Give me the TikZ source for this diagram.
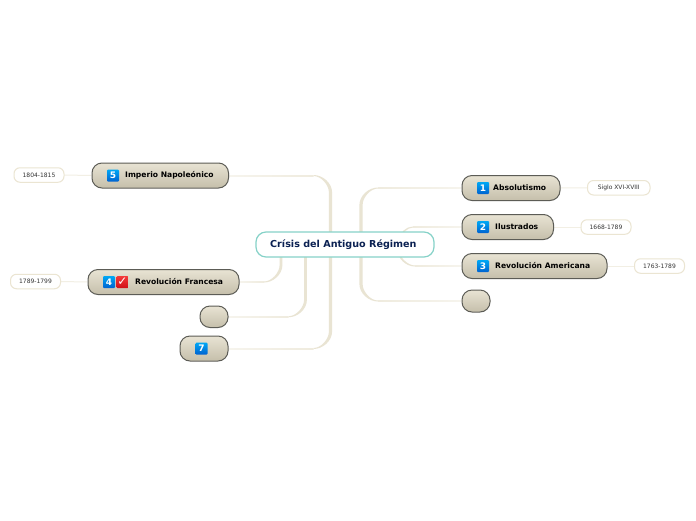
\documentclass[tikz,border=0pt]{standalone}
\usepackage{fontspec}
\setmainfont{DejaVu Sans}
\usetikzlibrary{calc,backgrounds}
\definecolor{branchA}{HTML}{E9E4D3}
\definecolor{branchB}{HTML}{EFEBDE}
\definecolor{branchC}{HTML}{F6F4ED}
\definecolor{leafline}{HTML}{F2EFE4}
\definecolor{leafedge}{HTML}{EBE5D2}
\definecolor{rootedge}{HTML}{86D2C8}
\definecolor{rootink}{HTML}{0B2152}
\definecolor{boxedge}{HTML}{5C5C56}
\definecolor{boxa}{HTML}{DAD5C3}
\definecolor{boxb}{HTML}{C7C1AD}
\definecolor{boxc}{HTML}{E6E1D1}
\definecolor{bluea}{HTML}{0062D0}
\definecolor{blueb}{HTML}{00A8F4}
\definecolor{reda}{HTML}{D01018}
\definecolor{redb}{HTML}{F43A3A}
\pgfdeclareverticalshading{boxshade}{100bp}{color(0bp)=(boxa); color(25bp)=(boxa); color(28bp)=(boxb); color(72bp)=(boxc); color(100bp)=(boxc)}
\pgfdeclareverticalshading{blueshade}{100bp}{color(0bp)=(bluea); color(25bp)=(bluea); color(75bp)=(blueb); color(100bp)=(blueb)}
\pgfdeclareverticalshading{redshade}{100bp}{color(0bp)=(reda); color(25bp)=(reda); color(75bp)=(redb); color(100bp)=(redb)}
\tikzset{
  x=1pt,y=-1pt,
  rootbox/.style={draw=rootedge,line width=1.2pt,fill=white,rounded corners=10pt,minimum height=25pt,inner sep=0pt},
  topicbox/.style={draw=boxedge,line width=1pt,shading=boxshade,rounded corners=10pt,inner sep=0pt},
  leafbox/.style={draw=leafedge,line width=1pt,fill=white,rounded corners=6pt,inner sep=0pt,minimum height=14.5pt,minimum width=50pt,font=\fontsize{6}{6}\selectfont,text=black!80},
  topictext/.style={font=\bfseries\fontsize{7.6}{8}\selectfont,text=black,inner sep=0pt,anchor=west},
  iconblue/.style={shading=blueshade,rounded corners=1pt,minimum size=12pt,inner sep=0pt,text=white,font=\bfseries\fontsize{9}{9}\selectfont},
  iconred/.style={shading=redshade,rounded corners=1pt,minimum size=12pt,inner sep=0pt,text=white,font=\bfseries\fontsize{12}{12}\selectfont},
  leafconn/.style={draw=leafline,line width=1pt},
  fade1/.style={left color=branchB,right color=branchC},
  fade-1/.style={left color=branchC,right color=branchB},
}
% #1 start, #2 end, #3 horizontal sign, #4 vertical sign, #5 radius, #6 half width at the root
\newcommand{\branchline}[6]{%
  \coordinate (C) at (#1 |- #2);
  \fill[branchA]
    ($(#1)+({-#3*#6},0)$) -- ($(C)+({-#3*#6},{-#4*#5})$)
    .. controls ($(C)+({-#3*#6},{-#4*0.45*#5})$) and ($(C)+({#3*0.45*#5},{#4*0.5})$) .. ($(C)+({#3*#5},{#4*0.5})$)
    -- ($(C)+({#3*#5},{-#4*0.5})$)
    .. controls ($(C)+({#3*0.55*#5},{-#4*0.5})$) and ($(C)+({#3*#6},{-#4*0.55*#5})$) .. ($(C)+({#3*#6},{-#4*#5})$)
    -- ($(#1)+({#3*#6},0)$) -- cycle;
  \shade[fade#3] ($(C)+({#3*#5},-0.5)$) rectangle ($(#2)+(0,0.5)$);
}
\begin{document}
\begin{tikzpicture}
\useasboundingbox (0,0) rectangle (696,520);
\node[rootbox,minimum width=178pt] (root) at (345,244.5) {};
\node[font=\bfseries\fontsize{9.6}{10}\selectfont,text=rootink,inner sep=0pt,anchor=west] (roottext) at (270,244.5) {Crísis del Antiguo Régimen};
% right topics
\node[topicbox,minimum width=98pt,minimum height=25pt] (abs) at (511,188) {};
\node[iconblue] (i1) at (483,188) {1};
\node[topictext] (t1) at (493,187.5) {Absolutismo};
\node[topicbox,minimum width=91.5pt,minimum height=25pt] (ilu) at (507.75,227) {};
\node[iconblue] (i2) at (483,227) {2};
\node[topictext] (t2) at (495,227) {Ilustrados};
\node[topicbox,minimum width=145pt,minimum height=25pt] (ame) at (534.5,266) {};
\node[iconblue] (i3) at (483,266) {3};
\node[topictext] (t3) at (495,266) {Revolución Americana};
\node[topicbox,minimum width=28pt,minimum height=22pt] (emptyr) at (476,301) {};
% left topics
\node[topicbox,minimum width=136.5pt,minimum height=25pt] (imp) at (160.25,175.5) {};
\node[iconblue] (i5) at (113,175.5) {5};
\node[topictext] (t5) at (125,175.5) {Imperio Napoleónico};
\node[topicbox,minimum width=151pt,minimum height=25pt] (fra) at (163.5,282) {};
\node[iconblue] (i4) at (109,282) {4};
\node[iconred] (c4) at (122.5,282) {✓};
\node[topictext] (t4) at (135,282) {Revolución Francesa};
\node[topicbox,minimum width=28pt,minimum height=21.5pt] (emptyl) at (214,316.75) {};
\node[topicbox,minimum width=48pt,minimum height=25pt] (seven) at (204,348.5) {};
\node[iconblue] (i7) at (201.5,348.5) {7};
% leaves
\node[leafbox,minimum width=62.5pt] (l1) at (618.75,187.75) {Siglo XVI-XVIII};
\node[leafbox] (l2) at (606,227) {1668-1789};
\node[leafbox] (l3) at (659.5,266) {1763-1789};
\node[leafbox] (l5) at (39,175) {1804-1815};
\node[leafbox] (l4) at (35.5,281.5) {1789-1799};
\coordinate (sa) at (361,244.5);
\coordinate (sb) at (400,244.5);
\coordinate (sc) at (398,244.5);
\coordinate (sd) at (330.5,244.5);
\coordinate (se) at (281,244.5);
\coordinate (sf) at (305.5,244.5);
\begin{pgfonlayer}{background}
\fill[white] (0,0) rectangle (696,520);
\branchline{sa}{abs.west}{1}{-1}{17}{1.6}
\branchline{sa}{emptyr.west}{1}{1}{17}{1.6}
\branchline{sb}{ilu.west}{1}{-1}{13}{0.6}
\branchline{sc}{ame.west}{1}{1}{17}{0.7}
\branchline{sd}{imp.east}{-1}{-1}{17}{1.6}
\branchline{sd}{seven.east}{-1}{1}{17}{1.6}
\branchline{se}{fra.east}{-1}{1}{17}{1.4}
\branchline{sf}{emptyl.east}{-1}{1}{17}{1.4}
\draw[leafconn] (abs.east) -- (l1.west);
\draw[leafconn] (ilu.east) -- (l2.west);
\draw[leafconn] (ame.east) -- (l3.west);
\draw[leafconn] (imp.west) -- (l5.east);
\draw[leafconn] (fra.west) -- (l4.east);
\end{pgfonlayer}
\end{tikzpicture}
\end{document}
